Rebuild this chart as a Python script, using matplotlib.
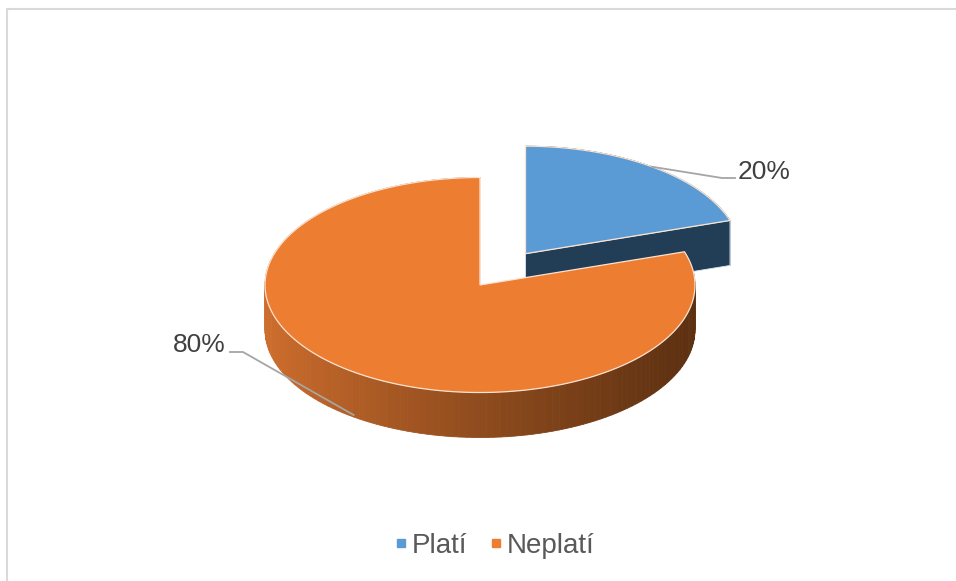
import numpy as np
import matplotlib
matplotlib.use("Agg")
import matplotlib.pyplot as plt
from matplotlib.patches import Polygon
from matplotlib.lines import Line2D

# --- data ---
categories = ["Platí", "Neplatí"]
values = [20, 80]
top_colors = ["#5B9BD5", "#ED7D31"]
side_dark = ["#213E56", "#5C3011"]
side_light = ["#2A4D6B", "#CF6E2D"]
explode = [0.36, 0.0]

plt.rcParams["font.family"] = ["Liberation Sans", "DejaVu Sans"]

W, H = 956, 581
fig = plt.figure(figsize=(W / 100, H / 100), dpi=100)
ax = fig.add_axes([0, 0, 1, 1])
ax.set_xlim(0, W)
ax.set_ylim(H, 0)
ax.axis("off")

# chart frame (left and top only visible)
ax.plot([7, 7, W + 5], [H + 5, 9, 9], color="#D9D9D9", lw=1.5, solid_capstyle="butt")

CX, CY = 480.0, 285.0
RX, RY = 215.0, 107.5
DEPTH = 45.0


def pt(cx, cy, ang, dz=0.0):
    a = np.radians(ang)
    return cx + RX * np.cos(a), cy - RY * np.sin(a) + dz


total = float(sum(values))
start = 90.0
wedges = []
for i, v in enumerate(values):
    sweep = 360.0 * v / total
    a0, a1 = start - sweep, start  # clockwise from 12 o'clock
    mid = (a0 + a1) / 2
    e = explode[i]
    cx = CX + e * RX * np.cos(np.radians(mid))
    cy = CY - e * RY * np.sin(np.radians(mid))
    wedges.append((i, a0, a1, mid, cx, cy))
    start = a0


def side_color(i, x):
    t = np.clip((x - (CX - RX)) / (2 * RX), 0, 1)
    t = t ** 0.85
    c0 = np.array(matplotlib.colors.to_rgb(side_light[i]))
    c1 = np.array(matplotlib.colors.to_rgb(side_dark[i]))
    return c0 * (1 - t) + c1 * t


# exploded (back) slice first, then the main one
for i, a0, a1, mid, cx, cy in sorted(wedges, key=lambda w: -explode[w[0]]):
    angs = np.linspace(a0, a1, 400)
    # outer curved side in thin strips for the shading
    n = 160
    sa = np.linspace(a0, a1, n + 1)
    order = np.argsort(-np.sin(np.radians((sa[:-1] + sa[1:]) / 2)))
    for k in order:
        p0 = pt(cx, cy, sa[k]); p1 = pt(cx, cy, sa[k + 1])
        q1 = pt(cx, cy, sa[k + 1], DEPTH); q0 = pt(cx, cy, sa[k], DEPTH)
        col = side_color(i, (p0[0] + p1[0]) / 2)
        ax.add_patch(Polygon([p0, p1, q1, q0], closed=True, facecolor=col,
                             edgecolor=col, lw=0.6))
    # radial cut face at the clockwise end
    e0 = pt(cx, cy, a0)
    face = [(cx, cy), e0, (e0[0], e0[1] + DEPTH), (cx, cy + DEPTH)]
    ax.add_patch(Polygon(face, closed=True, facecolor=side_dark[i],
                         edgecolor="#DCE6EE", lw=0.6))
    # top face
    xs, ys = pt(cx, cy, angs)
    poly = np.column_stack([np.r_[cx, xs], np.r_[cy, ys]])
    ax.add_patch(Polygon(poly, closed=True, facecolor=top_colors[i],
                         edgecolor="#FBE3D2", lw=0.9))

# data labels with leader lines
label_color = "#404040"
leader = "#A5A5A5"
for i, a0, a1, mid, cx, cy in wedges:
    pct = f"{values[i] / total * 100:.0f}%"
    if np.cos(np.radians(mid)) > 0:
        sx, sy = pt(cx, cy, mid)
        ax.plot([sx, 722, 735], [sy, 178, 178], color=leader, lw=1.3)
        ax.text(738, 172, pct, fontsize=19, color=label_color,
                ha="left", va="center")
    else:
        sx, sy = pt(cx, cy, mid, DEPTH - 2)
        ax.plot([sx, 243, 230], [sy, 352, 352], color=leader, lw=1.3)
        ax.text(226, 345, pct, fontsize=19, color=label_color,
                ha="right", va="center")

# legend
handles = [Line2D([], [], marker="s", linestyle="none", markersize=5.2,
                  markerfacecolor=c, markeredgecolor=c) for c in top_colors]
leg = fig.legend(handles, categories, loc="center",
                 bbox_to_anchor=(495 / W, 1 - 546 / H), ncol=2, frameon=False,
                 fontsize=20, handlelength=0.35, handletextpad=0.22,
                 columnspacing=0.85, borderpad=0)
for t in leg.get_texts():
    t.set_color("#595959")

fig.savefig("out.png", dpi=100)
